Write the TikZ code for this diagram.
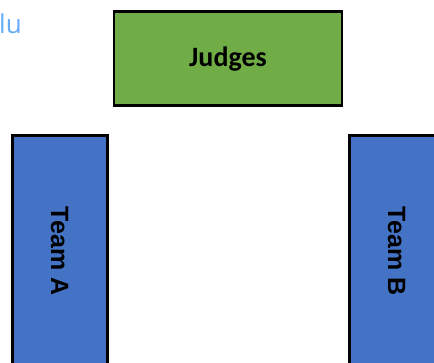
\documentclass[tikz,border=0pt]{standalone}
\usepackage{fontspec}
\setmainfont{Carlito}
\newfontfamily\arialbf{Liberation Sans Bold}
\newfontfamily\lightfont{Open Sans}
\definecolor{judgegreen}{RGB}{112,173,71}
\definecolor{teamblue}{RGB}{68,114,196}
\definecolor{linkblue}{RGB}{102,170,250}
\begin{document}
\begin{tikzpicture}[x=1pt,y=-1pt,
  boxstyle/.style={draw=black, line width=2.2pt, inner sep=0pt},
  judgebox/.style={boxstyle, fill=judgegreen},
  teambox/.style={boxstyle, fill=teamblue},
  teamtext/.style={font=\arialbf\fontsize{25}{30}\selectfont, rotate=-90}]
\useasboundingbox (0,0) rectangle (434,362);
\begin{scope}
\clip (0,0) rectangle (434,362);
\path[judgebox] (114,11.5) rectangle (342,105.5);
\path[teambox] (12.5,135.5) rectangle (107.5,380);
\path[teambox] (349.5,135.5) rectangle (460,380);
\end{scope}
\node[font=\bfseries\fontsize{28}{32}\selectfont] (judges) at (228,59) {Judges};
\node[teamtext] (teamA) at (59.5,251) {Team A};
\node[teamtext] (teamB) at (396.5,251) {Team B};
\node[font=\lightfont\fontsize{26}{30}\selectfont, text=linkblue, anchor=base west, inner sep=0pt] (lu) at (-1,33) {lu};
\end{tikzpicture}
\end{document}
